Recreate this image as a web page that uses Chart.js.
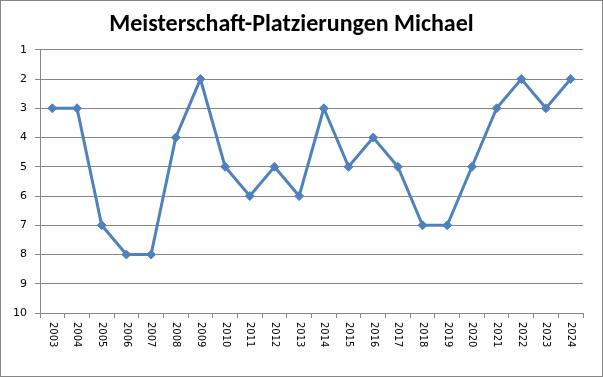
<!DOCTYPE html>
<html>
<head>
<meta charset="utf-8">
<script src="https://cdn.jsdelivr.net/npm/chart.js@4"></script>
<style>
  html, body { margin: 0; padding: 0; background: #fff; }
  #wrap { width: 603px; height: 377px; }
</style>
</head>
<body>
<div id="wrap"><canvas id="chart" width="603" height="377"></canvas></div>
<script>
const years = ['2003', '2004', '2005', '2006', '2007', '2008', '2009', '2010', '2011', '2012', '2013',
  '2014', '2015', '2016', '2017', '2018', '2019', '2020', '2021', '2022', '2023', '2024'];
const placements = [3, 3, 7, 8, 8, 4, 2, 5, 6, 5, 6, 3, 5, 4, 5, 7, 7, 5, 3, 2, 3, 2];
const rankTicks = [1, 2, 3, 4, 5, 6, 7, 8, 9, 10];

const axisGray = '#868686';

// outer frame of the chart
const frame = {
  id: 'frame',
  afterDraw(chart) {
    const ctx = chart.ctx;
    ctx.save();
    ctx.strokeStyle = axisGray;
    ctx.lineWidth = 1;
    ctx.strokeRect(0.5, 0.5, chart.width - 1, chart.height - 1);
    ctx.restore();
  }
};

// year labels read top to bottom, so draw them ourselves
const yearLabels = {
  id: 'yearLabels',
  afterDraw(chart) {
    const ctx = chart.ctx;
    const xs = chart.scales.x;
    ctx.save();
    ctx.font = '10px "DejaVu Sans"';
    ctx.fillStyle = '#000';
    ctx.textAlign = 'left';
    ctx.textBaseline = 'middle';
    years.forEach((y, i) => {
      const px = xs.getPixelForValue(i);
      ctx.save();
      ctx.translate(px, xs.top + 9);
      ctx.rotate(Math.PI / 2);
      ctx.fillText(y, 0, 0);
      ctx.restore();
    });
    ctx.restore();
  }
};

const ctx = document.getElementById('chart').getContext('2d');
new Chart(ctx, {
  type: 'line',
  data: {
    labels: years,
    datasets: [{
      data: placements,
      borderColor: '#4F81BD',
      backgroundColor: '#4F81BD',
      borderWidth: 3,
      tension: 0,
      pointStyle: 'rectRot',
      pointRadius: 4.5,
      pointHoverRadius: 4.5,
      pointBorderWidth: 1
    }]
  },
  options: {
    responsive: false,
    animation: false,
    layout: { padding: { left: 0, right: 20, top: 0, bottom: 0 } },
    plugins: {
      legend: { display: false },
      tooltip: { enabled: false },
      title: {
        display: true,
        text: 'Meisterschaft-Platzierungen Michael',
        color: '#000',
        font: { family: 'Carlito, Lato, "Liberation Sans"', size: 24, weight: 'bold', lineHeight: 1.2 },
        padding: { top: 11, bottom: 10 }
      }
    },
    scales: {
      x: {
        offset: true,
        grid: {
          offset: true,
          drawOnChartArea: false,
          drawTicks: true,
          tickLength: 5,
          color: axisGray
        },
        border: { color: axisGray },
        ticks: { display: false },
        afterFit(scale) { scale.height = 64; }
      },
      y: {
        reverse: true,
        min: 1,
        max: 10,
        afterBuildTicks(scale) { scale.ticks = rankTicks.map(v => ({ value: v })); },
        grid: { color: axisGray, tickLength: 5 },
        border: { color: axisGray },
        ticks: {
          color: '#000',
          padding: 8,
          font: { family: '"DejaVu Sans"', size: 11 }
        },
        afterFit(scale) { scale.width = 40; }
      }
    }
  },
  plugins: [frame, yearLabels]
});
</script>
</body>
</html>
